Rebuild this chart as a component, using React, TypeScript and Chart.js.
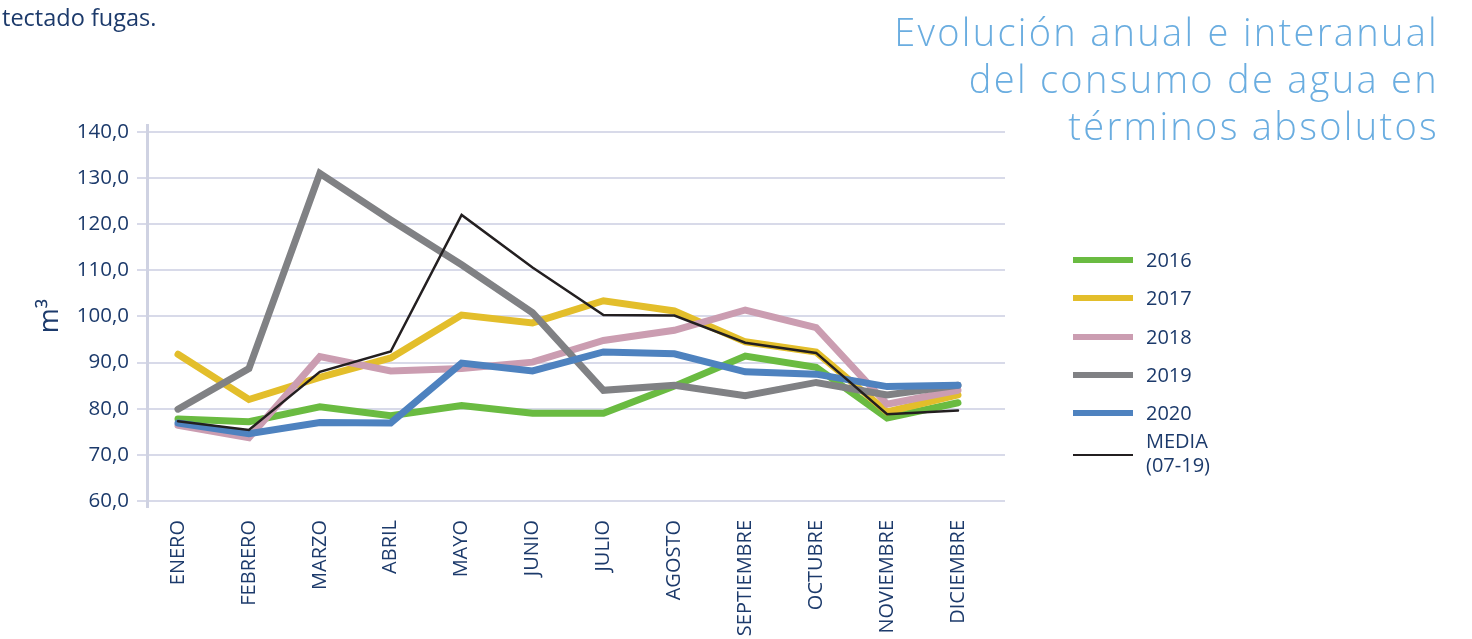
import React, { useEffect, useRef } from 'react';
import { Chart, registerables } from 'chart.js';

Chart.register(...registerables);

const months = ['ENERO', 'FEBRERO', 'MARZO', 'ABRIL', 'MAYO', 'JUNIO', 'JULIO', 'AGOSTO', 'SEPTIEMBRE', 'OCTUBRE', 'NOVIEMBRE', 'DICIEMBRE'];
const s2016 = [77.8, 77.2, 80.4, 78.5, 80.7, 79.0, 79.0, 84.9, 91.4, 89.0, 78.0, 81.3];
const s2017 = [91.8, 82.0, 86.8, 91.0, 100.3, 98.6, 103.4, 101.2, 94.5, 92.3, 79.3, 83.0];
const s2018 = [76.4, 73.7, 91.3, 88.2, 88.7, 90.1, 94.8, 97.0, 101.4, 97.6, 81.0, 84.0];
const s2019 = [79.9, 88.7, 131.0, 120.9, 111.2, 100.8, 84.0, 85.1, 82.8, 85.7, 83.0, 85.1];
const s2020 = [76.9, 74.6, 77.0, 76.9, 89.9, 88.2, 92.3, 91.9, 88.0, 87.5, 84.8, 85.1];
const media = [77.3, 75.4, 88.0, 92.4, 122.0, 110.6, 100.3, 100.2, 94.3, 92.1, 78.8, 79.6];
const yTicks = [60, 70, 80, 90, 100, 110, 120, 130, 140];
const seriesNames = ['2016', '2017', '2018', '2019', '2020', 'MEDIA (07-19)'];
const seriesColors = ['#6abb41', '#e3be2b', '#cb9db1', '#808184', '#4e82bf', '#231f20'];
const seriesWidths = [7, 7, 7, 7, 7, 2.5];
const seriesData = [s2016, s2017, s2018, s2019, s2020, media];

const NAVY = '#1c3a6b';
const GRID = '#d8dae9';
const AXIS = '#cfd2e2';
const FONT = '"Open Sans", "Noto Sans", sans-serif';

export default function App() {
  const ref = useRef<HTMLCanvasElement | null>(null);

  useEffect(() => {
    if (!ref.current) return;
    const datasets = seriesData.map((arr, k) => ({
      label: seriesNames[k],
      data: arr.map((y, i) => ({ x: i, y })),
      borderColor: seriesColors[k],
      backgroundColor: seriesColors[k],
      borderWidth: seriesWidths[k],
      pointRadius: 0,
      tension: 0,
      fill: false,
      borderCapStyle: 'round' as const,
      borderJoinStyle: 'miter' as const,
      order: seriesData.length - 1 - k,
    }));
    const chart = new Chart(ref.current, {
      type: 'line',
      data: { datasets },
      options: {
        animation: false,
        responsive: false,
        maintainAspectRatio: false,
        layout: { padding: { left: 0, top: 125, right: 467, bottom: 0 } },
        plugins: { legend: { display: false }, tooltip: { enabled: false } },
        scales: {
          x: {
            type: 'linear',
            min: -0.437,
            max: 11.663,
            afterBuildTicks: (s: any) => {
              s.ticks = months.map((_, i) => ({ value: i }));
            },
            afterFit: (s: any) => {
              s.height = 132;
              s.paddingLeft = 0;
              s.paddingRight = 0;
            },
            grid: { display: false, drawTicks: false },
            border: { display: false },
            ticks: {
              autoSkip: false,
              maxRotation: 90,
              minRotation: 90,
              padding: 13,
              color: NAVY,
              font: { family: FONT, size: 20 },
              callback: (v: any) => months[v as number],
            },
          },
          y: {
            type: 'linear',
            min: 58.7,
            max: 141.5,
            afterBuildTicks: (s: any) => {
              s.ticks = yTicks.map((v) => ({ value: v }));
            },
            afterFit: (s: any) => {
              s.width = 147;
            },
            grid: { color: GRID, lineWidth: 2, tickLength: 10, drawTicks: true },
            border: { display: true, color: AXIS, width: 3 },
            ticks: {
              padding: 8,
              color: NAVY,
              font: { family: FONT, size: 20.5 },
              callback: (v: any) => Number(v).toFixed(1).replace('.', ','),
            },
            title: {
              display: true,
              text: 'm³',
              color: NAVY,
              font: { family: FONT, size: 27 },
              padding: { top: 34, bottom: 0 },
            },
          },
        },
      },
    });
    return () => chart.destroy();
  }, []);

  const legendY = [260, 298, 337, 375, 413, 455];

  return (
    <div style={{ position: 'fixed', left: 0, top: 0, width: 1472, height: 639, background: '#fff', overflow: 'hidden', fontFamily: FONT }}>
      <canvas ref={ref} width={1472} height={639} style={{ position: 'absolute', left: 0, top: 0 }} />
      <div style={{ position: 'absolute', left: 2, top: 3, fontSize: 23.5, lineHeight: '28px', color: NAVY, whiteSpace: 'nowrap' }}>
        tectado fugas.
      </div>
      <div style={{ position: 'absolute', right: 33, top: 8, textAlign: 'right', fontSize: 38, lineHeight: '47px', color: '#6aade0', fontWeight: 300, letterSpacing: 2.3, whiteSpace: 'nowrap' }}>
        <div>Evolución anual e interanual</div>
        <div>del consumo de agua en</div>
        <div>términos absolutos</div>
      </div>
      {seriesNames.map((name, k) => (
        <React.Fragment key={name}>
          <div style={{ position: 'absolute', left: 1073, width: 60, top: legendY[k] - (k === 5 ? 1 : 3), height: k === 5 ? 2 : 6, background: seriesColors[k] }} />
          {k < 5 ? (
            <div style={{ position: 'absolute', left: 1146, top: legendY[k] - 14, fontSize: 20, lineHeight: '28px', color: NAVY }}>{name}</div>
          ) : (
            <div style={{ position: 'absolute', left: 1146, top: 429, fontSize: 20, lineHeight: '24px', color: NAVY }}>
              <div>MEDIA</div>
              <div>(07-19)</div>
            </div>
          )}
        </React.Fragment>
      ))}
    </div>
  );
}
